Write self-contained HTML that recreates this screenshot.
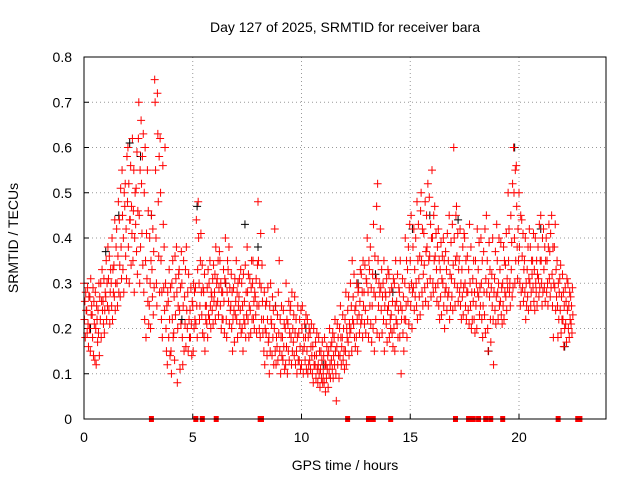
<!DOCTYPE html>
<html><head><meta charset="utf-8"><style>
body{margin:0;background:#fff;}
svg{display:block;font-family:"Liberation Sans",sans-serif;}
</style></head><body>
<svg id="chart" width="640" height="480" viewBox="0 0 640 480" xmlns="http://www.w3.org/2000/svg">
<text x="345" y="32" font-size="14" text-anchor="middle">Day 127 of 2025, SRMTID for receiver bara</text>
<text x="345" y="470" font-size="14" text-anchor="middle">GPS time / hours</text>
<text transform="translate(18,238) rotate(-90)" font-size="14" text-anchor="middle">SRMTID / TECUs</text>
<g id="grid"></g>
<g id="ticks"></g>
<g id="marks"></g>
<rect x="84" y="57" width="522" height="362" fill="none" stroke="#000" stroke-width="1"/>
</svg>
<script>
const xTicks=[0,5,10,15,20];
const yTicks=[0,0.1,0.2,0.3,0.4,0.5,0.6,0.7,0.8];
const yTickLabels=["0","0.1","0.2","0.3","0.4","0.5","0.6","0.7","0.8"];
const redTimes=[0,0.25,0.5,0.75,1,1.25,1.5,1.75,2,2.25,2.5,2.75,3,3.25,3.5,3.75,4,4.25,4.5,4.75,5,5.25,5.5,5.75,6,6.25,6.5,6.75,7,7.25,7.5,7.75,8,8.25,8.5,8.75,9,9.25,9.5,9.75,10,10.25,10.5,10.75,11,11.25,11.5,11.75,12,12.25,12.5,12.75,13,13.25,13.5,13.75,14,14.25,14.5,14.75,15,15.25,15.5,15.75,16,16.25,16.5,16.75,17,17.25,17.5,17.75,18,18.25,18.5,18.75,19,19.25,19.5,19.75,20,20.25,20.5,20.75,21,21.25,21.5,21.75,22,22.25];
const redValues=[
[.30,.22,.26,.18,.28,.24],[.20,.27,.15,.31,.23,.25],[.13,.28,.20,.12,.25,.22],[.22,.30,.18,.26,.33,.24],
[.27,.35,.22,.30,.25,.38],[.30,.25,.40,.22,.33,.28],[.42,.30,.25,.36,.48,.28],[.55,.45,.33,.40,.28,.50],
[.48,.60,.38,.52,.30,.44],[.35,.46,.55,.28,.40,.50],[.62,.70,.45,.30,.55,.38],[.28,.50,.22,.60,.35,.18],
[.25,.40,.30,.20,.35,.45],[.75,.70,.55,.40,.30,.25],[.62,.50,.35,.22,.28,.18],[.30,.20,.15,.25,.12,.28],
[.15,.10,.30,.22,.35,.18],[.38,.28,.08,.20,.25,.32],[.30,.18,.12,.25,.35,.15],[.20,.28,.15,.32,.22,.18],
[.25,.15,.30,.20,.28,.22],[.48,.40,.30,.22,.25,.35],[.28,.18,.32,.15,.25,.22],[.30,.22,.35,.25,.20,.28],
[.28,.32,.22,.38,.25,.30],[.35,.25,.30,.20,.28,.22],[.40,.30,.22,.18,.28,.35],[.25,.32,.20,.28,.15,.22],
[.35,.22,.28,.18,.30,.25],[.30,.20,.25,.15,.32,.22],[.38,.28,.22,.32,.18,.25],[.30,.35,.22,.26,.20,.28],
[.48,.35,.25,.20,.30,.18],[.22,.15,.28,.12,.20,.25],[.18,.10,.25,.15,.30,.22],[.20,.42,.15,.25,.12,.18],
[.15,.22,.10,.18,.25,.14],[.20,.12,.30,.16,.22,.10],[.25,.18,.12,.28,.15,.20],[.22,.15,.10,.18,.25,.13],
[.12,.20,.25,.15,.10,.18],[.15,.22,.10,.18,.12,.20],[.10,.16,.08,.20,.12,.14],[.08,.12,.18,.10,.15,.07],
[.10,.14,.08,.18,.12,.06],[.15,.10,.20,.12,.09,.16],[.18,.12,.22,.15,.10,.04],[.20,.14,.25,.18,.12,.16],
[.22,.15,.28,.12,.20,.18],[.30,.20,.25,.15,.35,.22],[.25,.18,.30,.22,.15,.28],[.32,.22,.28,.18,.35,.25],
[.30,.40,.22,.28,.18,.35],[.25,.32,.20,.43,.28,.15],[.52,.35,.25,.30,.18,.28],[.30,.22,.35,.15,.25,.28],
[.25,.32,.18,.28,.22,.20],[.20,.30,.15,.25,.35,.22],[.28,.18,.35,.25,.10,.22],[.30,.40,.22,.25,.35,.18],
[.35,.25,.45,.30,.20,.28],[.40,.30,.25,.48,.22,.35],[.50,.35,.28,.42,.25,.32],[.45,.38,.30,.52,.25,.35],
[.55,.40,.30,.28,.45,.35],[.38,.30,.42,.25,.35,.22],[.30,.40,.25,.35,.20,.28],[.35,.28,.45,.22,.32,.25],
[.60,.40,.30,.25,.35,.45],[.35,.28,.42,.25,.30,.22],[.40,.30,.25,.35,.22,.28],[.30,.25,.38,.20,.28,.22],
[.35,.25,.30,.20,.42,.28],[.40,.30,.22,.35,.18,.25],[.45,.28,.35,.20,.15,.30],[.32,.25,.40,.22,.12,.28],
[.35,.28,.22,.30,.40,.25],[.30,.25,.38,.22,.35,.28],[.50,.35,.42,.28,.30,.25],[.60,.50,.40,.30,.55,.35],
[.50,.38,.30,.25,.45,.28],[.35,.28,.40,.22,.30,.25],[.30,.38,.25,.28,.35,.32],[.40,.30,.28,.35,.25,.32],
[.45,.35,.30,.25,.40,.28],[.40,.28,.35,.30,.25,.38],[.45,.32,.25,.38,.18,.30],[.35,.25,.18,.30,.22,.28],
[.32,.22,.28,.16,.25,.20],[.30,.20,.25,.18,.28,.22]];
const redTimes2=[0.125,0.375,0.625,0.875,1.125,1.375,1.625,1.875,2.125,2.375,2.625,2.875,3.125,3.375,3.625,3.875,4.125,4.375,4.625,4.875,5.125,5.375,5.625,5.875,6.125,6.375,6.625,6.875,7.125,7.375,7.625,7.875,8.125,8.375,8.625,8.875,9.125,9.375,9.625,9.875,10.125,10.375,10.625,10.875,11.125,11.375,11.625,11.875,12.125,12.375,12.625,12.875,13.125,13.375,13.625,13.875,14.125,14.375,14.625,14.875,15.125,15.375,15.625,15.875,16.125,16.375,16.625,16.875,17.125,17.375,17.625,17.875,18.125,18.375,18.625,18.875,19.125,19.375,19.625,19.875,20.125,20.375,20.625,20.875,21.125,21.375,21.625,21.875,22.125,22.375];
const redValues2=[
[.24,.19,.29,.21,.16,.27],[.23,.18,.29,.14,.26,.21],[.17,.24,.19,.30,.14,.27],[.26,.21,.31,.19,.24,.28],
[.31,.24,.36,.21,.28,.33],[.34,.27,.44,.24,.30,.38],[.44,.34,.27,.51,.38,.31],[.47,.52,.36,.42,.31,.58],
[.44,.56,.34,.47,.41,.62],[.43,.51,.37,.59,.32,.46],[.66,.52,.41,.58,.34,.63],[.41,.31,.55,.26,.46,.21],
[.33,.27,.42,.23,.37,.29],[.72,.63,.48,.36,.58,.28],[.56,.43,.29,.38,.24,.60],[.26,.18,.33,.22,.14,.29],
[.19,.27,.13,.36,.23,.31],[.33,.24,.11,.29,.21,.37],[.27,.21,.33,.16,.38,.24],[.24,.18,.29,.21,.14,.26],
[.29,.21,.44,.25,.18,.33],[.41,.28,.23,.34,.19,.29],[.25,.21,.29,.18,.33,.23],[.27,.24,.31,.21,.34,.26],
[.31,.26,.35,.23,.29,.37],[.28,.22,.33,.26,.19,.31],[.33,.26,.38,.21,.29,.24],[.29,.24,.17,.31,.23,.26],
[.27,.31,.21,.24,.33,.19],[.26,.21,.34,.18,.28,.23],[.31,.24,.19,.29,.35,.22],[.27,.23,.31,.19,.25,.34],
[.41,.29,.22,.34,.26,.19],[.19,.26,.14,.22,.29,.17],[.21,.14,.27,.18,.24,.12],[.16,.23,.13,.28,.19,.35],
[.18,.13,.24,.16,.21,.11],[.21,.15,.26,.13,.19,.24],[.17,.23,.14,.27,.19,.12],[.19,.13,.22,.16,.11,.24],
[.16,.21,.13,.18,.23,.11],[.13,.19,.11,.16,.21,.14],[.12,.17,.09,.14,.19,.11],[.11,.15,.09,.13,.17,.08],
[.12,.09,.16,.11,.14,.07],[.13,.17,.11,.19,.09,.14],[.16,.21,.12,.18,.14,.09],[.18,.23,.13,.20,.15,.11],
[.24,.17,.27,.14,.21,.19],[.27,.21,.32,.18,.24,.16],[.29,.23,.19,.26,.33,.21],[.28,.21,.34,.24,.19,.31],
[.33,.25,.38,.21,.29,.17],[.36,.27,.22,.31,.47,.19],[.42,.29,.24,.33,.19,.27],[.27,.21,.31,.17,.24,.33],
[.23,.29,.19,.26,.16,.31],[.26,.21,.32,.18,.24,.29],[.24,.31,.19,.27,.15,.22],[.33,.26,.38,.21,.29,.43],
[.38,.29,.42,.24,.33,.27],[.43,.31,.27,.36,.23,.46],[.41,.34,.29,.48,.26,.37],[.49,.36,.31,.43,.27,.40],
[.47,.36,.29,.41,.33,.26],[.33,.27,.39,.23,.31,.36],[.37,.29,.33,.24,.41,.27],[.39,.31,.27,.43,.24,.34],
[.47,.36,.29,.41,.26,.33],[.33,.27,.38,.23,.29,.41],[.36,.28,.24,.33,.21,.43],[.31,.26,.35,.22,.28,.19],
[.33,.27,.39,.23,.29,.25],[.37,.28,.23,.42,.19,.31],[.39,.27,.33,.22,.17,.29],[.31,.24,.37,.21,.27,.43],
[.33,.26,.39,.23,.29,.21],[.34,.27,.41,.24,.31,.29],[.45,.33,.39,.27,.52,.29],[.56,.47,.38,.31,.42,.35],
[.44,.36,.29,.41,.26,.33],[.33,.27,.38,.24,.31,.42],[.35,.29,.41,.26,.33,.24],[.38,.31,.27,.43,.29,.35],
[.42,.33,.29,.38,.26,.35],[.43,.31,.37,.27,.41,.29],[.38,.29,.43,.24,.33,.27],[.31,.24,.34,.19,.27,.22],
[.29,.21,.26,.17,.31,.24],[.27,.21,.25,.19,.29,.23]];
const blackTimes=[0.3,1.0,1.6,2.1,2.6,3.1,4.5,5.2,6.5,7.4,8.0,8.8,10.2,11.0,12.6,13.4,14.2,15.1,15.9,17.2,18.6,19.8,21.0,22.1];
const blackValues=[.20,.37,.45,.61,.58,.45,.22,.47,.30,.43,.38,.25,.20,.12,.30,.32,.28,.42,.45,.44,.15,.60,.42,.16];
const squareTimes=[3.1,5.14,5.44,6.08,8.1,8.16,12.12,13.08,13.3,14.1,17.08,17.68,17.9,18.14,18.47,18.7,19.25,21.8,22.7,22.8];

const NS="http://www.w3.org/2000/svg";
const X=t=>84+t*(522/24);
const Y=v=>419-v*(362/0.8);
const grid=document.getElementById('grid'),ticks=document.getElementById('ticks'),marks=document.getElementById('marks');
function mk(tag,attrs,parent){const e=document.createElementNS(NS,tag);for(const k in attrs)e.setAttribute(k,attrs[k]);parent.appendChild(e);return e;}
xTicks.forEach(t=>{
  if(t>0){const g=mk('line',{x1:X(t),x2:X(t),y1:57,y2:419,stroke:'#999','stroke-dasharray':'1,3'},grid);
  
  }
  const l=mk('text',{x:X(t),y:442,'font-size':14,'text-anchor':'middle'},ticks);l.textContent=t;
  
  
  mk('line',{x1:X(t),x2:X(t),y1:419,y2:414,stroke:'#000'},ticks);
});
yTicks.forEach((v,i)=>{
  if(v>0&&v<0.8){const g=mk('line',{x1:84,x2:606,y1:Y(v),y2:Y(v),stroke:'#999','stroke-dasharray':'1,3'},grid);
  
  }
  const l=mk('text',{x:72,y:Y(v)+5,'font-size':14,'text-anchor':'end'},ticks);l.textContent=yTickLabels[i];
  
  
  mk('line',{x1:84,x2:89,y1:Y(v),y2:Y(v),stroke:'#000'},ticks);
});
function plus(t,v,color){
  const x=X(t),y=Y(v);
  return mk('path',{d:`M${x-4},${y}h8M${x},${y-4}v8`,stroke:color,'stroke-width':1,fill:'none'},marks);
}
blackTimes.forEach((t,i)=>{
  const p=plus(t,blackValues[i],'#000');
  
  
});
redTimes.forEach((t,i)=>{
  redValues[i].forEach((v,j)=>{
    const p=plus(t+j*0.02,v,'#f00');
    
    
  });
});
redTimes2.forEach((t,i)=>{
  redValues2[i].forEach((v,j)=>{
    const p=plus(t+j*0.02,v,'#f00');
    
    
  });
});
squareTimes.forEach(t=>{
  const r=mk('rect',{x:X(t)-2.5,y:Y(0)-3,width:5,height:6,fill:'#f00'},marks);
  
  
});
</script>
</body></html>
